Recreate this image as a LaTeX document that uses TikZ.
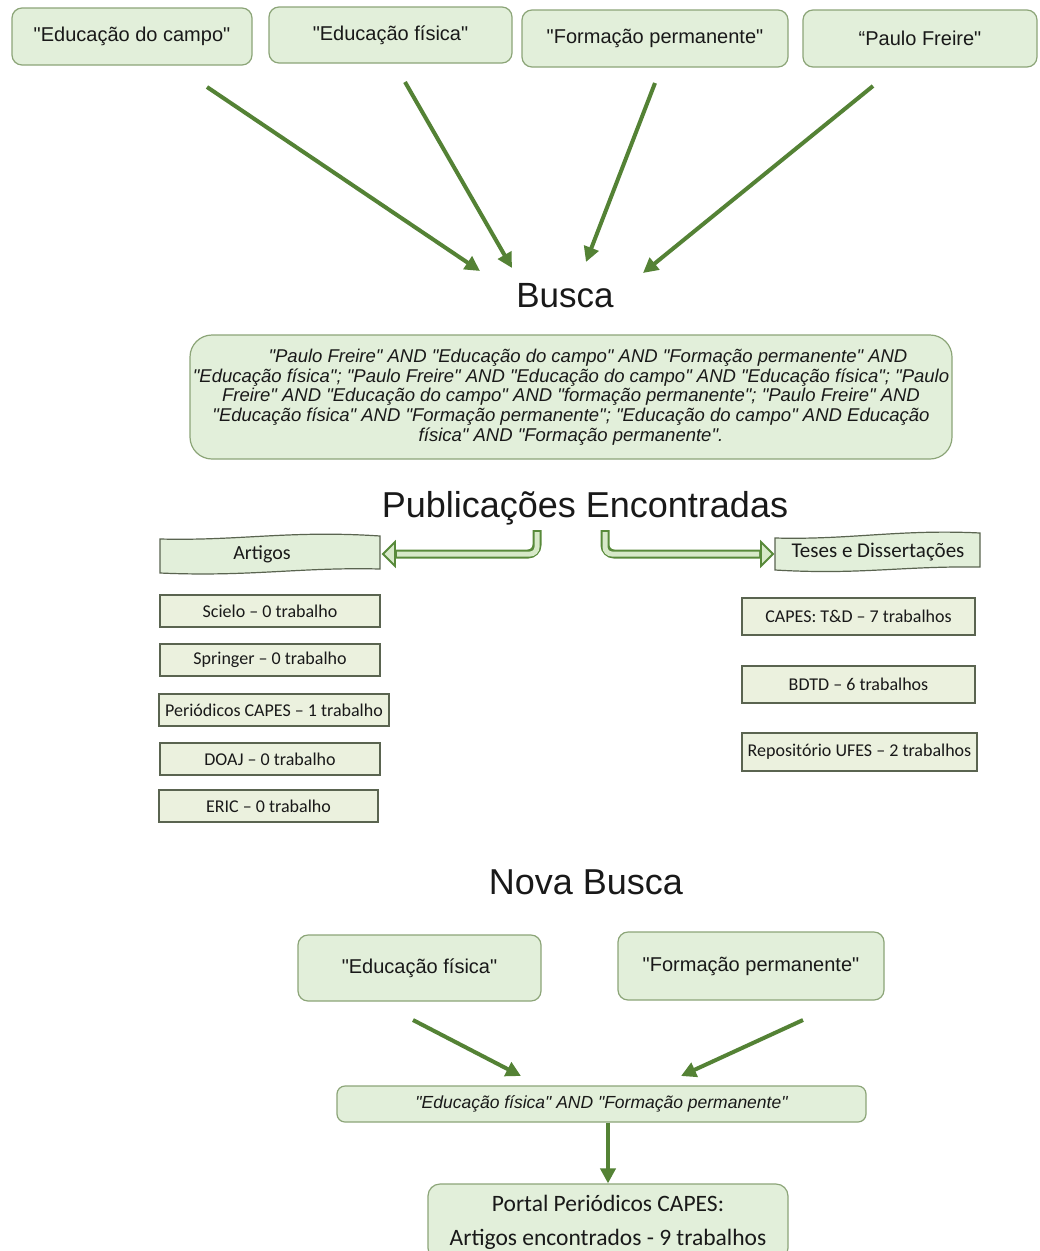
\documentclass[tikz,border=0pt]{standalone}
\usepackage{fontspec}
\setmainfont{Liberation Sans}[Ligatures=TeXOff]
\newfontfamily\calib{Carlito}[Ligatures=TeXOff]
\usetikzlibrary{arrows.meta}
\definecolor{arrowgreen}{RGB}{84,130,53}
\definecolor{boxfill}{RGB}{226,239,218}
\definecolor{boxdraw}{RGB}{140,165,120}
\definecolor{rectfill}{RGB}{235,241,222}
\definecolor{rectdraw}{RGB}{90,100,80}
\definecolor{hollowout}{RGB}{88,138,58}
\definecolor{hollowin}{RGB}{215,233,200}
\definecolor{txt}{RGB}{25,25,25}
\tikzset{
  rbox/.style={draw=boxdraw, fill=boxfill, rounded corners=10pt, line width=1.2pt, inner sep=0pt, align=center, text=txt},
  topbox/.style={rbox, font=\fontsize{20}{24}\selectfont},
  sbox/.style={draw=rectdraw, fill=rectfill, line width=1.2pt, inner sep=0pt, text=txt, font=\calib\fontsize{18}{20}\selectfont},
  banner/.style={draw=rectdraw, fill=boxfill, line width=1.2pt},
  bannertext/.style={text=txt, font=\calib\fontsize{20}{22}\selectfont, inner sep=0pt},
  heading/.style={text=txt, font=\fontsize{35}{40}\selectfont, inner sep=0pt},
  garrow/.style={draw=arrowgreen, line width=4pt, -{Triangle[length=15pt,width=15pt]}},
  hollowshaft/.style={draw=hollowout, line width=9pt, rounded corners=9pt},
  hollowcore/.style={draw=hollowin, line width=5pt, rounded corners=7pt},
  hollowhead/.style={fill=hollowin, draw=hollowout, line width=1.8pt, line join=miter},
}
\begin{document}
\begin{tikzpicture}[x=1pt,y=-1pt]
\useasboundingbox (0,0) rectangle (1040,1251);
\fill[white] (0,0) rectangle (1040,1251);

% top keywords
\node[topbox, minimum width=240, minimum height=57] (t1) at (132,36.5) {"Educação do campo"};
\node[topbox, minimum width=243, minimum height=56] (t2) at (390.5,35) {"Educação física"};
\node[topbox, minimum width=266, minimum height=57] (t3) at (655,38.5) {"Formação permanente"};
\node[topbox, minimum width=234, minimum height=57] (t4) at (920,38.5) {“Paulo Freire"};

\node[heading] (busca) at (565,296) {Busca};

\coordinate (a1s) at (207,87);  \coordinate (a1e) at (480,271);
\coordinate (a2s) at (405,82);  \coordinate (a2e) at (512,268);
\coordinate (a3s) at (655,83);  \coordinate (a3e) at (586,262);
\coordinate (a4s) at (873,86);  \coordinate (a4e) at (643,273);
\draw[garrow] (a1s) -- (a1e);
\draw[garrow] (a2s) -- (a2e);
\draw[garrow] (a3s) -- (a3e);
\draw[garrow] (a4s) -- (a4e);

% search string box
\node[rbox, rounded corners=22pt, minimum width=762, minimum height=124,
      font=\itshape\fontsize{18.5}{19.75}\selectfont] (query) at (571,397)
 {\hspace*{34pt}"Paulo Freire" AND "Educação do campo" AND "Formação permanente" AND\\
  "Educação física"; "Paulo Freire" AND "Educação do campo" AND "Educação física"; "Paulo\\
  Freire" AND "Educação do campo" AND "formação permanente"; "Paulo Freire" AND\\
  "Educação física" AND "Formação permanente"; "Educação do campo" AND Educação\\
  física" AND "Formação permanente".};

\node[heading, font=\fontsize{36}{40}\selectfont] (pub) at (585,508) {Publicações Encontradas};

% banners
\draw[banner] (160,539) .. controls (240,541) and (290,530) .. (380,536) -- (380,569)
   .. controls (300,567) and (250,577) .. (160,573) -- cycle;
\node[bannertext] (art) at (262,554) {Artigos};
\draw[banner] (775,538) .. controls (850,540) and (900,529) .. (980,533) -- (980,567)
   .. controls (900,566) and (860,575) .. (775,570) -- cycle;
\node[bannertext, font=\calib\fontsize{21}{22}\selectfont] (tes) at (878,552) {Teses e Dissertações};

% hollow arrows
\coordinate (hl0) at (537,530); \coordinate (hl1) at (395,554); \coordinate (hl2) at (397,554);
\coordinate (hl0i) at (537,532);
\draw[hollowshaft] (hl0) |- (hl1);
\draw[hollowhead] (395,542) -- (383,554) -- (395,566) -- cycle;
\draw[hollowcore] (hl0i) |- (hl2);
\coordinate (hr0) at (605,530); \coordinate (hr1) at (761,554); \coordinate (hr2) at (759,554);
\coordinate (hr0i) at (605,532);
\draw[hollowshaft] (hr0) |- (hr1);
\draw[hollowhead] (761,542) -- (773,554) -- (761,566) -- cycle;
\draw[hollowcore] (hr0i) |- (hr2);

% left list
\node[sbox, minimum width=220, minimum height=32] (sci) at (270,611) {Scielo – 0 trabalho};
\node[sbox, minimum width=220, minimum height=32] (spr) at (270,660) {Springer – 0 trabalho};
\node[sbox, minimum width=230, minimum height=32] (per) at (274,710) {Periódicos CAPES – 1 trabalho};
\node[sbox, minimum width=220, minimum height=32] (doa) at (270,759) {DOAJ – 0 trabalho};
\node[sbox, minimum width=219, minimum height=32] (eri) at (268.5,806) {ERIC – 0 trabalho};

% right list
\node[sbox, minimum width=233, minimum height=37] (cap) at (858.5,616.5) {CAPES: T\&D – 7 trabalhos};
\node[sbox, minimum width=233, minimum height=37] (bdt) at (858.5,684.5) {BDTD – 6 trabalhos};
\node[sbox, minimum width=235, minimum height=38] (rep) at (859.5,752) {Repositório UFES – 2 trabalhos};

% new search
\node[heading, font=\fontsize{36}{40}\selectfont] (nova) at (586,882) {Nova Busca};
\node[topbox, minimum width=243, minimum height=66] (n1) at (419.5,968) {"Educação física"};
\node[topbox, minimum width=266, minimum height=68] (n2) at (751,966) {"Formação permanente"};

\coordinate (b1s) at (413,1020); \coordinate (b1e) at (521,1076);
\coordinate (b2s) at (803,1020); \coordinate (b2e) at (681,1076);
\draw[garrow] (b1s) -- (b1e);
\draw[garrow] (b2s) -- (b2e);

\node[rbox, rounded corners=8pt, minimum width=529, minimum height=36,
      font=\itshape\fontsize{17.5}{20}\selectfont] (mid) at (601.5,1104)
  {"Educação física" AND "Formação permanente"};

\node[rbox, rounded corners=12pt, minimum width=360, minimum height=76,
      font=\calib\fontsize{23.5}{34}\selectfont] (portal) at (608,1222)
  {Portal Periódicos CAPES:\\Artigos encontrados - 9 trabalhos};

\draw[garrow] (mid.south -| portal.north) -- (portal.north);
\end{tikzpicture}
\end{document}
